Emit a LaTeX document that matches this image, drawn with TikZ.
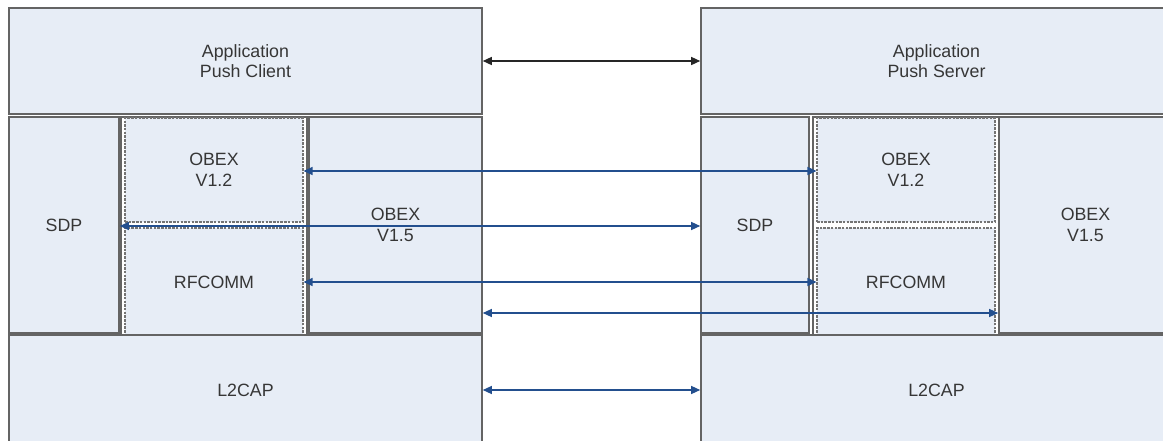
\documentclass[tikz,border=0pt]{standalone}
\usepackage{fontspec}
\setmainfont{Liberation Sans}
\usetikzlibrary{arrows.meta}
\definecolor{layerfill}{HTML}{E7EDF6}
\definecolor{layerline}{HTML}{646464}
\definecolor{linkblue}{HTML}{234F8E}
\definecolor{labelgray}{HTML}{363636}
\tikzset{
  layer/.style={draw=layerline, line width=1.6pt, fill=layerfill, inner sep=0pt,
    align=center, text=labelgray, font=\fontsize{17.8}{20.5}\selectfont},
  sublayer/.style={layer, draw=layerline!90, line width=1.1pt, dash pattern=on 2.5pt off 1.2pt},
  frame/.style={draw=layerline, line width=1.1pt, fill=white, inner sep=0pt},
  tip/.style={Triangle[length=9pt,width=8pt]},
  peer/.style={draw=black!85, line width=1.4pt, {Triangle[length=9pt,width=8pt]}-{Triangle[length=9pt,width=8pt]}},
  link/.style={draw=linkblue, line width=1.3pt, {Triangle[length=9pt,width=8pt]}-{Triangle[length=9pt,width=8pt]}}
}
\begin{document}
\begin{tikzpicture}[x=1pt, y=-1pt]
\clip (0,0) rectangle (1163,440);
\fill[white] (0,0) rectangle (1163,440);

% client stack
\node[layer, minimum width=473pt, minimum height=106pt] (appl) at (245.5,61) {Application\\Push Client};
\node[layer, minimum width=110pt, minimum height=216pt] (sdpl) at (64,225) {SDP};
\node[frame, minimum width=186pt, minimum height=218pt] (coll) at (214,226) {};
\node[sublayer, minimum width=178pt, minimum height=104pt] (ob12l) at (214,170) {OBEX\\V1.2};
\node[sublayer, minimum width=178pt, minimum height=108pt] (rfl) at (214,282) {RFCOMM};
\node[layer, minimum width=173pt, minimum height=216pt] (ob15l) at (395.5,225) {OBEX\\V1.5};
\node[layer, minimum width=473pt, minimum height=110pt] (l2l) at (245.5,390) {L2CAP};

% server stack
\node[layer, minimum width=471pt, minimum height=106pt] (appr) at (936.5,61) {Application\\Push Server};
\node[layer, minimum width=108pt, minimum height=216pt] (sdpr) at (755,225) {SDP};
\node[frame, minimum width=186pt, minimum height=218pt] (colr) at (906,226) {};
\node[sublayer, minimum width=178pt, minimum height=104pt] (ob12r) at (906,170) {OBEX\\V1.2};
\node[sublayer, minimum width=178pt, minimum height=108pt] (rfr) at (906,282) {RFCOMM};
\node[layer, minimum width=173pt, minimum height=216pt] (ob15r) at (1085.5,225) {OBEX\\V1.5};
\node[layer, minimum width=471pt, minimum height=110pt] (l2r) at (936.5,390) {L2CAP};

% peer-to-peer links
\draw[peer] (appl.east) -- (appr.west);
\draw[link] ([yshift=-1pt]ob12l.east) -- ([yshift=-1pt]ob12r.west);
\draw[link] ([yshift=-1pt]sdpl.east) -- ([yshift=-1pt]sdpr.west);
\draw[link] (rfl.east) -- (rfr.west);
\draw[link] ([yshift=-88pt]ob15l.east) -- ([yshift=-88pt]ob15r.west);
\draw[link] (l2l.east) -- (l2r.west);
\end{tikzpicture}
\end{document}
